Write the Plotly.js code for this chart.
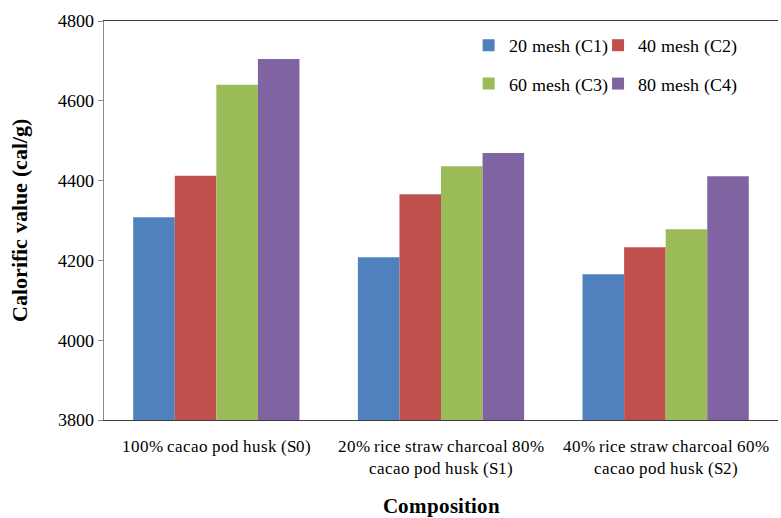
<!DOCTYPE html>
<html>
<head>
<meta charset="utf-8">
<script src="https://cdn.plot.ly/plotly-3.0.1.min.js"></script>
<style>
  @font-face { font-family: "ChartSerif"; src: local("Liberation Serif"), local("LiberationSerif"), local("Times New Roman"); font-weight: 400; font-style: normal; }
  @font-face { font-family: "ChartSerif"; src: local("Liberation Serif Bold"), local("LiberationSerif-Bold"), local("Times New Roman Bold"); font-weight: 700; font-style: normal; }
  html, body { margin: 0; padding: 0; background: #fff; }
  .face { position: absolute; left: 0; top: 0; font-size: 17px; color: #fff; opacity: 0.01; pointer-events: none; }
</style>
</head>
<body>
<span class="face" style="font-family:'Liberation Serif'">&nbsp;0</span>
<span class="face" style="font-family:ChartSerif">&nbsp;0</span>
<div id="chart" style="width:781px;height:518px;position:relative"></div>
<script>
// Sample compositions (x categories)
const compositions = [
  "100% cacao pod husk (S0)",
  "20% rice straw charcoal 80%<br>cacao pod husk (S1)",
  "40% rice straw charcoal 60%<br>cacao pod husk (S2)"
];

// Calorific value (cal/g) per particle size
const mesh20 = [4308, 4208, 4165];
const mesh40 = [4412, 4366, 4233];
const mesh60 = [4640, 4436, 4278];
const mesh80 = [4705, 4469, 4411];

const seriesNames = ["20 mesh (C1)", "40 mesh (C2)", "60 mesh (C3)", "80 mesh (C4)"];
const seriesColors = ["#4F81BD", "#C0504D", "#9BBB59", "#8064A2"];
const seriesLegends = ["legend", "legend2", "legend", "legend2"];
const seriesValues = [mesh20, mesh40, mesh60, mesh80];

const FONT = "ChartSerif, Liberation Serif, serif";

const traces = seriesValues.map((vals, i) => ({
  type: "bar",
  name: seriesNames[i],
  x: compositions,
  y: vals,
  marker: { color: seriesColors[i] },
  legend: seriesLegends[i],
  legendgroup: "g" + i
}));

const legendCommon = {
  orientation: "v",
  font: { family: FONT, size: 18, color: "#000" },
  bgcolor: "rgba(0,0,0,0)",
  xref: "paper", yref: "paper",
  xanchor: "left", yanchor: "top",
  itemwidth: 30,
  tracegroupgap: 12,
  traceorder: "grouped"
};

const layout = {
  width: 781,
  height: 518,
  margin: { l: 104, r: 3, t: 21, b: 98 },
  barmode: "group",
  bargap: 0.26,
  bargroupgap: 0,
  font: { family: FONT, size: 17, color: "#000" },
  showlegend: true,
  legend: Object.assign({}, legendCommon, { x: 0.541, y: 0.985 }),
  legend2: Object.assign({}, legendCommon, { x: 0.733, y: 0.985 }),
  xaxis: {
    type: "category",
    showline: true,
    linecolor: "#3a3a3a",
    linewidth: 1.3,
    mirror: true,
    ticks: "",
    ticklabelstandoff: 10,
    tickfont: { family: FONT, size: 17, color: "#000" },
    title: { text: "<b>Composition</b>", font: { family: FONT, size: 21, color: "#000" }, standoff: 22 },
    automargin: false
  },
  yaxis: {
    range: [3800, 4800],
    dtick: 200,
    tick0: 3800,
    showgrid: false,
    zeroline: false,
    showline: true,
    linecolor: "#8a8a8a",
    linewidth: 1.3,
    ticks: "outside",
    ticklen: 5,
    tickcolor: "#8a8a8a",
    tickfont: { family: FONT, size: 18, color: "#000" },
    title: { text: "<b>Calorific value (cal/g)</b>", font: { family: FONT, size: 22, color: "#000" }, standoff: 24 },
    automargin: false
  }
};

function draw() {
  Plotly.react("chart", traces, layout, { staticPlot: true });
}

// draw once the serif faces are available, and refresh once more afterwards
draw();
Promise.all([
  document.fonts.load('17px ChartSerif'),
  document.fonts.load('bold 21px ChartSerif'),
  document.fonts.ready
]).then(draw, draw);
setTimeout(draw, 250);
</script>
</body>
</html>
